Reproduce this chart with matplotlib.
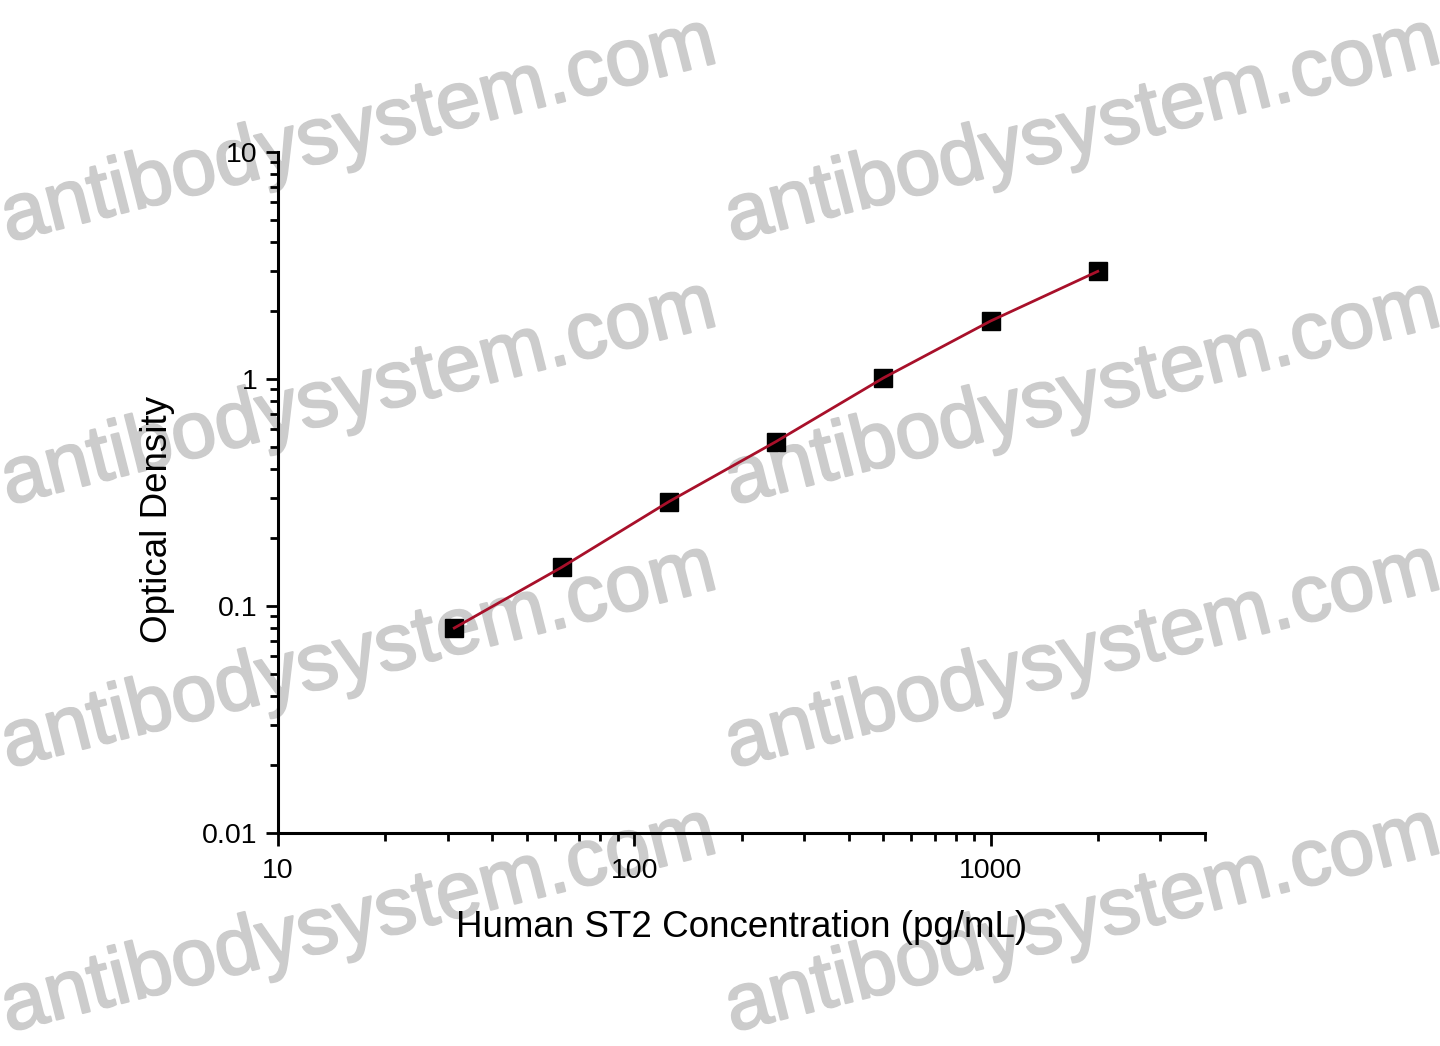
import numpy as np
import matplotlib.pyplot as plt
import matplotlib.patheffects as pe
from matplotlib.ticker import LogLocator, NullFormatter, FixedLocator, FixedFormatter

plt.rcParams['font.family'] = ['Liberation Sans', 'DejaVu Sans']

# standard curve data
conc = [31.25, 62.5, 125, 250, 500, 1000, 2000]
od = [0.080, 0.148, 0.288, 0.53, 1.01, 1.80, 2.98]

x_ticks = [10, 100, 1000]
x_tick_labels = ["10", "100", "1000"]
y_ticks = [0.01, 0.1, 1, 10]
y_tick_labels = ["0.01", "0.1", "1", "10"]

# watermark anchors (pixels, from top-left)
wm_x = [8, 732]
wm_y = [242, 505, 768, 1032]

W, H = 1440, 1046
fig = plt.figure(figsize=(W / 100, H / 100), dpi=100)

for x0 in wm_x:
    for y0 in wm_y:
        fig.text(x0 / W, 1 - y0 / H, "antibodysystem.com", fontsize=58,
                 color="#cccccc", rotation=14.2, rotation_mode="anchor",
                 ha="left", va="baseline", zorder=-1,
                 path_effects=[pe.withStroke(linewidth=1.5, foreground="#cccccc")])

ax = fig.add_axes([278 / W, 1 - 833 / H, (1205 - 278) / W, (833 - 152) / H])
ax.set_facecolor("none")

ax.plot(conc, od, linestyle="none", marker="s", markersize=12.5,
        color="black", zorder=3)
ax.plot(conc, od, color="#a8102a", linewidth=2, zorder=4)

ax.set_xscale("log")
ax.set_yscale("log")
ax.set_xlim(10, 4000)
ax.set_ylim(0.01, 10)

ax.xaxis.set_major_locator(FixedLocator(x_ticks))
ax.xaxis.set_major_formatter(FixedFormatter(x_tick_labels))
ax.yaxis.set_major_locator(FixedLocator(y_ticks))
ax.yaxis.set_major_formatter(FixedFormatter(y_tick_labels))
ax.xaxis.set_minor_locator(LogLocator(base=10, subs=np.arange(2, 10), numticks=20))
ax.yaxis.set_minor_locator(LogLocator(base=10, subs=np.arange(2, 10), numticks=20))
ax.xaxis.set_minor_formatter(NullFormatter())
ax.yaxis.set_minor_formatter(NullFormatter())

for side in ["top", "right"]:
    ax.spines[side].set_visible(False)
for side in ["left", "bottom"]:
    ax.spines[side].set_linewidth(2.2)

ax.tick_params(which="major", direction="out", length=9, width=2, labelsize=20.5, pad=6)
ax.tick_params(axis="x", which="major", pad=9)
ax.tick_params(which="minor", direction="out", length=5.5, width=2)

ax.set_xlabel("Human ST2 Concentration (pg/mL)", fontsize=26.5, labelpad=19)
ax.set_ylabel("Optical Density", fontsize=26.5)
ax.yaxis.set_label_coords(-0.111, 0.46)

fig.savefig("out.png", dpi=100)
